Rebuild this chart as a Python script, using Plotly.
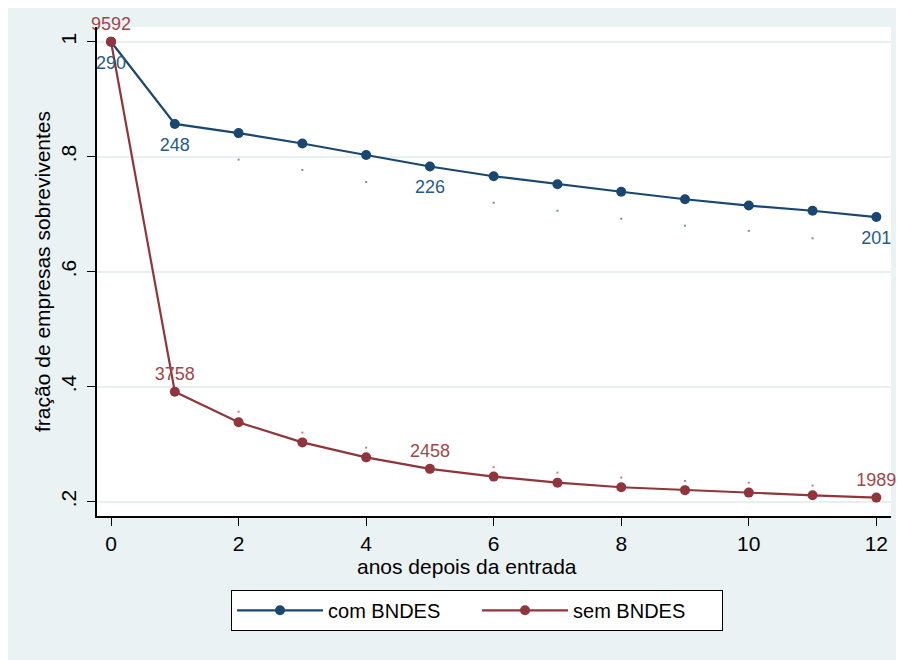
import plotly.graph_objects as go

# ---- data ----
anos = [0, 1, 2, 3, 4, 5, 6, 7, 8, 9, 10, 11, 12]
com_bndes = [1.0, 0.857, 0.841, 0.823, 0.803, 0.783, 0.766, 0.752, 0.739, 0.726, 0.715, 0.706, 0.695]
sem_bndes = [1.0, 0.391, 0.338, 0.303, 0.277, 0.257, 0.2435, 0.233, 0.225, 0.220, 0.2157, 0.211, 0.207]
com_labels = ["290", "248", "", "", "", "226", "", "", "", "", "", "", "201"]
sem_labels = ["9592", "3758", "", "", "", "2458", "", "", "", "", "", "", "1989"]
# small dots (interval bounds) visible in the picture; None where hidden
com_dots = [None, None, 0.795, 0.777, 0.756, None, 0.720, 0.706, 0.692, 0.680, 0.671, 0.658, None]
sem_dots = [None, None, 0.3565, 0.320, 0.294, None, 0.260, 0.2505, 0.2418, 0.236, 0.233, 0.228, None]
y_ticks = [0.2, 0.4, 0.6, 0.8, 1.0]
y_ticktext = [".2", ".4", ".6", ".8", "1"]
x_ticks = [0, 2, 4, 6, 8, 10, 12]

BLUE = "#1A476F"
RED = "#90353B"
BG = "#EAF2F3"
FONT = "Liberation Sans, Arial, sans-serif"

fig = go.Figure()

fig.add_trace(go.Scatter(
    x=anos, y=com_dots, mode="markers", showlegend=False, hoverinfo="skip",
    marker=dict(symbol="square", size=2, color="#6E8FB2", line=dict(width=0))))
fig.add_trace(go.Scatter(
    x=anos, y=sem_dots, mode="markers", showlegend=False, hoverinfo="skip",
    marker=dict(symbol="square", size=2, color="#C07F86", line=dict(width=0))))

fig.add_trace(go.Scatter(
    x=anos, y=com_bndes, name="com BNDES", mode="lines+markers",
    line=dict(color=BLUE, width=2.2),
    marker=dict(symbol="circle", size=10, color=BLUE)))
fig.add_trace(go.Scatter(
    x=anos, y=sem_bndes, name="sem BNDES", mode="lines+markers+text",
    text=sem_labels, textposition="top center", cliponaxis=False,
    textfont=dict(size=18, color="#A0474D", family=FONT),
    line=dict(color=RED, width=2.2),
    marker=dict(symbol="circle", size=10, color=RED)))
# labels for com BNDES (placed below the points)
fig.add_trace(go.Scatter(
    x=anos, y=com_bndes, mode="markers+text", showlegend=False, hoverinfo="skip",
    text=com_labels, textposition="bottom center", cliponaxis=False,
    textfont=dict(size=18, color="#2A5A86", family=FONT),
    marker=dict(size=20, color="rgba(0,0,0,0)")))

fig.update_layout(
    width=896, height=652,
    margin=dict(l=89, r=13, t=19, b=144),
    paper_bgcolor=BG,
    plot_bgcolor="white",
    font=dict(family=FONT, size=21, color="black"),
    showlegend=True,
    legend=dict(
        orientation="h", x=0.1688, xanchor="left", y=-0.151, yanchor="top",
        bgcolor="white", bordercolor="black", borderwidth=1,
        font=dict(size=20, family=FONT, color="black"),
        entrywidth=144, entrywidthmode="pixels", itemwidth=86,
        traceorder="normal"),
    xaxis=dict(
        range=[-0.22, 12.23], tickvals=x_ticks, showgrid=False, zeroline=False,
        showline=True, linecolor="black", linewidth=1.5,
        ticks="outside", ticklen=8, tickcolor="black", tickwidth=1.2,
        tickfont=dict(size=21)),
    yaxis=dict(
        range=[0.175, 1.0256], tickvals=y_ticks, ticktext=y_ticktext, tickangle=-90,
        showgrid=True, gridcolor="#E6EFF2", gridwidth=2, zeroline=False,
        showline=True, linecolor="black", linewidth=1.5,
        ticks="outside", ticklen=8, tickcolor="black", tickwidth=1.2,
        ticklabelstandoff=3,
        tickfont=dict(size=21),
        title=dict(text="fração de empresas sobreviventes", font=dict(size=21), standoff=0)),
    annotations=[dict(
        text="anos depois da entrada", xref="paper", yref="paper",
        x=(459 - 89) / 794, y=-(558 - 508) / 489, xanchor="center", yanchor="middle",
        showarrow=False, font=dict(size=21, family=FONT, color="black"))],
)

fig.write_html("out.html")
